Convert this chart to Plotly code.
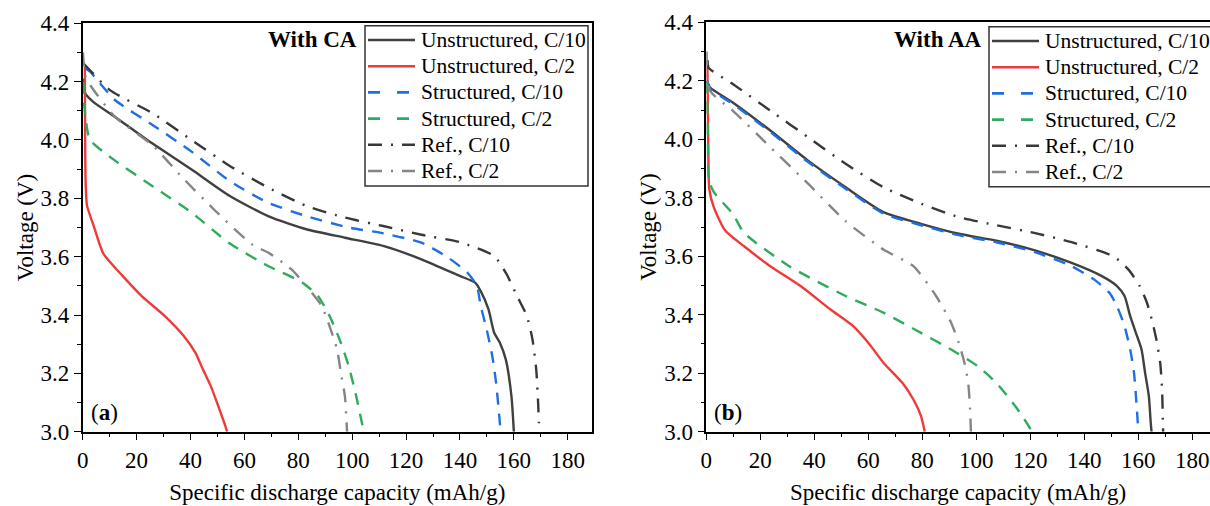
import plotly.graph_objects as go

# ---- (a) With CA: specific discharge capacity (mAh/g) vs voltage (V) ----
a_unstr_c10_cap = [0.2, 0.9, 4.0, 11.9, 24.0, 40.4, 54.6, 68.8, 83.0, 97.3, 111.5, 125.7, 139.9, 145.6, 147.7, 150.6, 152.7, 154.8, 157.0, 159.1, 160.0]
a_unstr_c10_v = [4.21, 4.16, 4.13, 4.08, 4.00, 3.899, 3.808, 3.739, 3.694, 3.665, 3.637, 3.591, 3.534, 3.511, 3.482, 3.419, 3.339, 3.305, 3.248, 3.122, 3.0]

a_unstr_c2_cap = [0.8, 0.9, 1.1, 1.6, 4.1, 7.7, 14.8, 21.9, 30.4, 37.5, 41.8, 44.6, 47.5, 50.3, 52.5, 53.6]
a_unstr_c2_v = [4.25, 4.00, 3.85, 3.775, 3.705, 3.610, 3.534, 3.465, 3.397, 3.328, 3.271, 3.214, 3.157, 3.088, 3.031, 3.0]

a_str_c10_cap = [1.0, 2.7, 12.0, 26.2, 40.4, 54.6, 68.8, 83.0, 98.7, 111.5, 125.7, 135.6, 142.8, 146.3, 147.7, 149.9, 152.0, 153.4, 154.8, 155.1]
a_str_c10_v = [4.245, 4.234, 4.137, 4.050, 3.960, 3.859, 3.785, 3.739, 3.700, 3.680, 3.648, 3.597, 3.545, 3.499, 3.431, 3.351, 3.259, 3.168, 3.031, 3.0]

a_str_c2_cap = [0.2, 0.6, 1.3, 2.7, 11.9, 26.2, 40.4, 54.6, 68.8, 81.6, 87.3, 91.6, 95.8, 98.7, 101.5, 103.6, 104.4]
a_str_c2_v = [4.20, 4.12, 4.06, 4.00, 3.93, 3.84, 3.751, 3.645, 3.568, 3.511, 3.465, 3.397, 3.305, 3.225, 3.122, 3.031, 3.0]

a_ref_c10_cap = [0.5, 2.0, 10.1, 26.2, 40.4, 54.6, 68.8, 83.0, 97.3, 111.5, 125.7, 139.9, 152.7, 157.0, 161.2, 164.8, 166.9, 168.3, 169.0, 169.3, 169.4]
a_ref_c10_v = [4.26, 4.246, 4.171, 4.090, 4.000, 3.911, 3.837, 3.774, 3.734, 3.705, 3.675, 3.650, 3.602, 3.545, 3.465, 3.397, 3.317, 3.214, 3.100, 3.031, 3.0]

a_ref_c2_cap = [0.1, 1.0, 3.4, 11.9, 26.2, 36.1, 48.9, 63.1, 68.8, 77.4, 83.0, 88.7, 91.6, 94.4, 95.8, 97.3, 98.0, 98.1]
a_ref_c2_v = [4.30, 4.22, 4.18, 4.08, 3.98, 3.88, 3.76, 3.64, 3.614, 3.557, 3.499, 3.431, 3.362, 3.282, 3.202, 3.122, 3.019, 3.0]

# ---- (b) With AA ----
b_unstr_c10_cap = [0.3, 1.4, 9.8, 23.7, 37.7, 51.6, 65.6, 79.5, 93.5, 107.4, 121.4, 135.3, 146.5, 152.1, 154.9, 157.0, 159.1, 161.2, 162.5, 163.9, 164.6, 164.9]
b_unstr_c10_v = [4.20, 4.177, 4.126, 4.030, 3.927, 3.836, 3.751, 3.711, 3.677, 3.653, 3.621, 3.577, 3.532, 3.498, 3.464, 3.395, 3.338, 3.281, 3.202, 3.122, 3.031, 3.0]

b_unstr_c2_cap = [0.4, 0.7, 1.1, 2.8, 7.0, 14.0, 23.7, 34.9, 46.0, 54.4, 60.0, 65.6, 72.6, 76.7, 79.5, 80.9]
b_unstr_c2_v = [4.25, 4.00, 3.83, 3.767, 3.688, 3.634, 3.566, 3.498, 3.418, 3.361, 3.304, 3.236, 3.167, 3.110, 3.054, 3.0]

b_str_c10_cap = [0.3, 1.4, 9.8, 23.7, 37.7, 51.6, 65.6, 79.5, 93.5, 107.4, 121.4, 135.3, 143.7, 149.3, 152.1, 154.9, 157.0, 158.4, 159.3, 159.8, 160.0]
b_str_c10_v = [4.20, 4.172, 4.121, 4.025, 3.922, 3.831, 3.746, 3.706, 3.672, 3.648, 3.615, 3.566, 3.520, 3.475, 3.429, 3.361, 3.281, 3.202, 3.099, 3.031, 3.0]

b_str_c2_cap = [0.3, 0.6, 1.0, 2.8, 9.8, 14.0, 30.7, 51.6, 65.6, 79.5, 90.7, 100.5, 107.4, 114.4, 118.6, 120.7]
b_str_c2_v = [4.20, 4.00, 3.86, 3.819, 3.745, 3.680, 3.566, 3.464, 3.407, 3.338, 3.281, 3.224, 3.167, 3.088, 3.031, 3.0]

b_ref_c10_cap = [0.5, 0.8, 9.8, 23.7, 37.7, 51.6, 65.6, 79.5, 93.5, 107.4, 121.4, 135.3, 150.7, 156.3, 160.5, 163.2, 165.3, 166.7, 168.1, 168.8, 169.1, 169.2]
b_ref_c10_v = [4.27, 4.245, 4.189, 4.098, 4.007, 3.916, 3.836, 3.780, 3.734, 3.706, 3.680, 3.648, 3.600, 3.555, 3.498, 3.441, 3.372, 3.315, 3.236, 3.145, 3.031, 3.0]

b_ref_c2_cap = [0.1, 1.4, 9.8, 23.7, 37.7, 51.6, 65.6, 76.7, 85.1, 90.7, 93.5, 95.6, 97.0, 97.7, 98.0]
b_ref_c2_v = [4.30, 4.166, 4.098, 3.973, 3.848, 3.720, 3.623, 3.566, 3.464, 3.372, 3.304, 3.236, 3.167, 3.076, 3.0]

series_names = ["Unstructured, C/10", "Unstructured, C/2", "Structured, C/10",
                "Structured, C/2", "Ref., C/10", "Ref., C/2"]
panel_titles = ["With CA", "With AA"]
panel_tags = ["(<b>a</b>)", "(<b>b</b>)"]

FONT = "Liberation Serif"
DASHED = "12px,9px"
DASHDOT = "14px,9px,2px,9px"
styles = [
    dict(color="#404040", dash="solid", key_dash="solid"),
    dict(color="#f03a3a", dash="solid", key_dash="solid"),
    dict(color="#1f6fe0", dash=DASHED, key_dash="12px,17px"),
    dict(color="#2fab5e", dash=DASHED, key_dash="12px,17px"),
    dict(color="#383838", dash=DASHDOT, key_dash=DASHDOT),
    dict(color="#858585", dash=DASHDOT, key_dash=DASHDOT),
]

panels = [
    [(a_unstr_c10_cap, a_unstr_c10_v), (a_unstr_c2_cap, a_unstr_c2_v),
     (a_str_c10_cap, a_str_c10_v), (a_str_c2_cap, a_str_c2_v),
     (a_ref_c10_cap, a_ref_c10_v), (a_ref_c2_cap, a_ref_c2_v)],
    [(b_unstr_c10_cap, b_unstr_c10_v), (b_unstr_c2_cap, b_unstr_c2_v),
     (b_str_c10_cap, b_str_c10_v), (b_str_c2_cap, b_str_c2_v),
     (b_ref_c10_cap, b_ref_c10_v), (b_ref_c2_cap, b_ref_c2_v)],
]

W, H = 1210, 506


def px_x(v):
    return v / W


def px_y(v):
    return 1 - v / H


fig = go.Figure()
for p, curves in enumerate(panels):
    xa = "x" if p == 0 else "x2"
    ya = "y" if p == 0 else "y2"
    for i, (cap, volt) in enumerate(curves):
        fig.add_trace(go.Scatter(
            x=cap, y=volt, mode="lines", name=series_names[i],
            xaxis=xa, yaxis=ya, showlegend=False,
            line=dict(color=styles[i]["color"], dash=styles[i]["dash"], width=2.4,
                      shape="spline", smoothing=0.6),
        ))

axis_common = dict(
    showline=True, linecolor="black", linewidth=1.5,
    ticks="outside", ticklen=7, tickwidth=1.3, tickcolor="black",
    showgrid=False, zeroline=False, automargin=False,
    tickfont=dict(family=FONT, size=23, color="black"),
    title_font=dict(family=FONT, size=23, color="black"),
)

xaxis_base = dict(axis_common, dtick=20, tick0=0,
                  minor=dict(ticks="outside", ticklen=4, dtick=10, tickcolor="black", tickwidth=1.2),
                  title_text="Specific discharge capacity (mAh/g)", title_standoff=12)
yaxis_base = dict(axis_common, range=[3.0, 4.4], dtick=0.2, tick0=3.0, tickformat=".1f",
                  minor=dict(ticks="outside", ticklen=4, dtick=0.1, tickcolor="black", tickwidth=1.2),
                  title_text="Voltage (V)", title_standoff=1)

fig.update_layout(
    width=W, height=H,
    margin=dict(l=0, r=0, t=0, b=0, autoexpand=False),
    paper_bgcolor="white", plot_bgcolor="white",
    showlegend=False,
    xaxis=dict(xaxis_base, domain=[px_x(82.7), px_x(592)], range=[0, 189], anchor="y", mirror=True),
    yaxis=dict(yaxis_base, domain=[px_y(431.7), px_y(23.3)], anchor="x", mirror=True),
    xaxis2=dict(xaxis_base, domain=[px_x(706.3), 1.0], range=[0, 186.55], anchor="y2", mirror=True),
    yaxis2=dict(yaxis_base, domain=[px_y(431.7), px_y(22.3)], anchor="x2", mirror=False),
)

# Key boxes: frame, line samples and series names for each panel
key_boxes = [
    dict(x0=365, x1=588, y0=25.7, y1=186, row0=40, key_x=368),
    dict(x0=989, x1=1222, y0=26.7, y1=186.7, row0=41, key_x=992),
]
ROW_STEP = 26.2
KEY_LEN = 47
for box in key_boxes:
    fig.add_shape(type="rect", xref="paper", yref="paper", layer="above",
                  x0=px_x(box["x0"]), x1=px_x(box["x1"]),
                  y0=px_y(box["y1"]), y1=px_y(box["y0"]),
                  line=dict(color="#333333", width=1.5), fillcolor="white")
    for i, name in enumerate(series_names):
        ry = box["row0"] + i * ROW_STEP
        fig.add_shape(type="line", xref="paper", yref="paper", layer="above",
                      x0=px_x(box["key_x"]), x1=px_x(box["key_x"] + KEY_LEN),
                      y0=px_y(ry), y1=px_y(ry),
                      line=dict(color=styles[i]["color"], dash=styles[i]["key_dash"], width=2.6))
        fig.add_annotation(text=name, xref="paper", yref="paper",
                           x=px_x(box["key_x"] + KEY_LEN + 4), y=px_y(ry),
                           xanchor="left", yanchor="middle", showarrow=False,
                           font=dict(family=FONT, size=21.5, color="black"))

# Panel headings and tags
for p, (x_right, x_tag) in enumerate([(359, 89), (984, 712)]):
    fig.add_annotation(
        text=f"<b>{panel_titles[p]}</b>", xref="paper", yref="paper",
        x=px_x(x_right), y=px_y(40), xanchor="right", yanchor="middle",
        showarrow=False, font=dict(family=FONT, size=23, color="black"),
    )
    fig.add_annotation(
        text=panel_tags[p], xref="paper", yref="paper",
        x=px_x(x_tag), y=px_y(412), xanchor="left", yanchor="middle",
        showarrow=False, font=dict(family=FONT, size=23, color="black"),
    )

fig.write_html("out.html")
